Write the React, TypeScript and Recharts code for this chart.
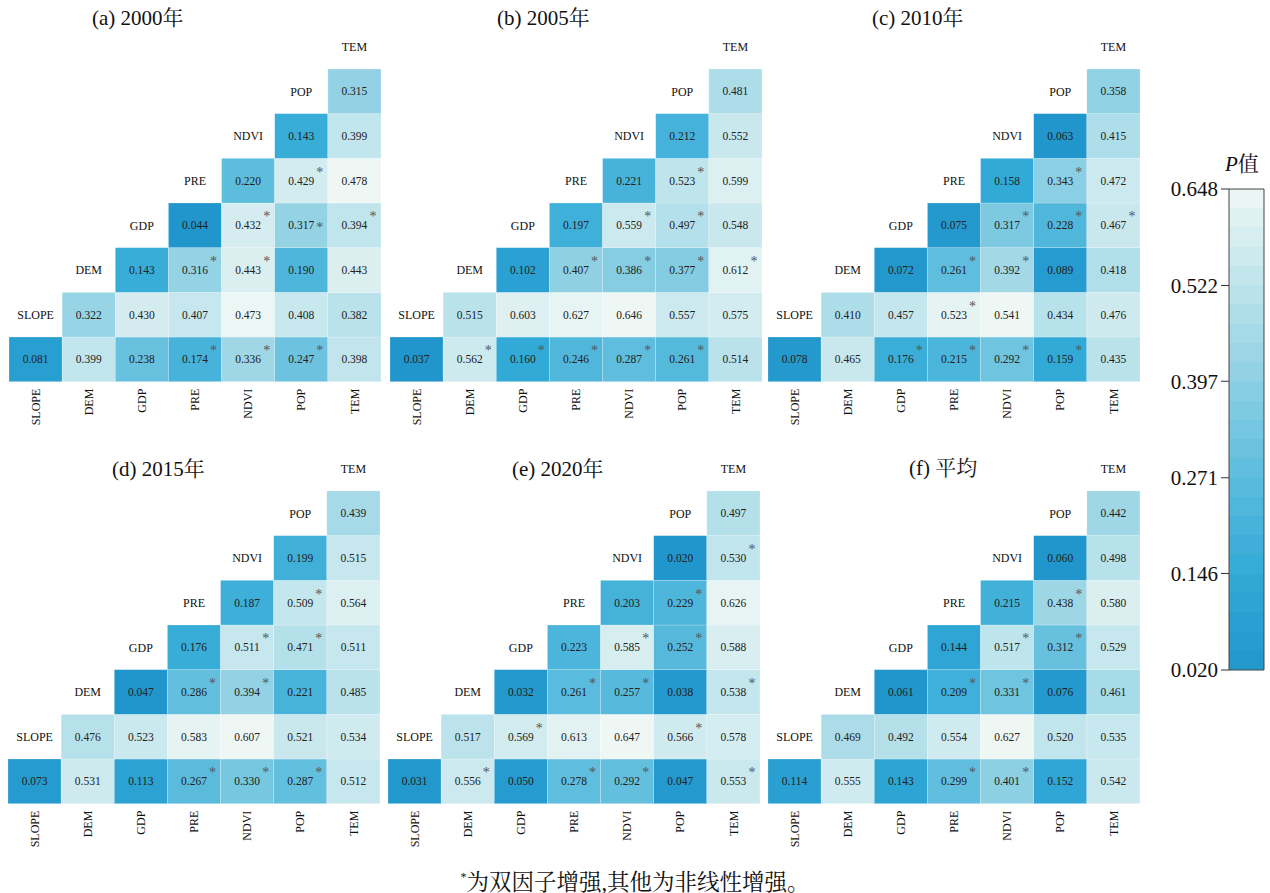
import { Bar, BarChart, Scatter, ScatterChart, XAxis, YAxis } from 'recharts'

// Factor names, left to right on the x axis.
const FACTORS = ['SLOPE', 'DEM', 'GDP', 'PRE', 'NDVI', 'POP', 'TEM']

// P values per panel, rows listed bottom to top.
// Row 0 spans all seven columns, row r (r >= 1) starts at column r.
const p2000 = [
  [0.081, 0.399, 0.238, 0.174, 0.336, 0.247, 0.398],
  [0.322, 0.43, 0.407, 0.473, 0.408, 0.382],
  [0.143, 0.316, 0.443, 0.19, 0.443],
  [0.044, 0.432, 0.317, 0.394],
  [0.22, 0.429, 0.478],
  [0.143, 0.399],
  [0.315],
]
const p2005 = [
  [0.037, 0.562, 0.16, 0.246, 0.287, 0.261, 0.514],
  [0.515, 0.603, 0.627, 0.646, 0.557, 0.575],
  [0.102, 0.407, 0.386, 0.377, 0.612],
  [0.197, 0.559, 0.497, 0.548],
  [0.221, 0.523, 0.599],
  [0.212, 0.552],
  [0.481],
]
const p2010 = [
  [0.078, 0.465, 0.176, 0.215, 0.292, 0.159, 0.435],
  [0.41, 0.457, 0.523, 0.541, 0.434, 0.476],
  [0.072, 0.261, 0.392, 0.089, 0.418],
  [0.075, 0.317, 0.228, 0.467],
  [0.158, 0.343, 0.472],
  [0.063, 0.415],
  [0.358],
]
const p2015 = [
  [0.073, 0.531, 0.113, 0.267, 0.33, 0.287, 0.512],
  [0.476, 0.523, 0.583, 0.607, 0.521, 0.534],
  [0.047, 0.286, 0.394, 0.221, 0.485],
  [0.176, 0.511, 0.471, 0.511],
  [0.187, 0.509, 0.564],
  [0.199, 0.515],
  [0.439],
]
const p2020 = [
  [0.031, 0.556, 0.05, 0.278, 0.292, 0.047, 0.553],
  [0.517, 0.569, 0.613, 0.647, 0.566, 0.578],
  [0.032, 0.261, 0.257, 0.038, 0.538],
  [0.223, 0.585, 0.252, 0.588],
  [0.203, 0.229, 0.626],
  [0.02, 0.53],
  [0.497],
]
const pMean = [
  [0.114, 0.555, 0.143, 0.299, 0.401, 0.152, 0.542],
  [0.469, 0.492, 0.554, 0.627, 0.52, 0.535],
  [0.061, 0.209, 0.331, 0.076, 0.461],
  [0.144, 0.517, 0.312, 0.529],
  [0.215, 0.438, 0.58],
  [0.06, 0.498],
  [0.442],
]

// Two-factor enhancement marks: 0 none, 1 raised asterisk, 2 inline asterisk.
const s2000 = [
  [0, 0, 0, 1, 1, 1, 0],
  [0, 0, 0, 0, 0, 0],
  [0, 1, 1, 0, 0],
  [0, 1, 2, 1],
  [0, 1, 0],
  [0, 0],
  [0],
]
const s2005 = [
  [0, 1, 1, 1, 1, 1, 0],
  [0, 0, 0, 0, 0, 0],
  [0, 1, 1, 1, 1],
  [0, 1, 1, 0],
  [0, 1, 0],
  [0, 0],
  [0],
]
const s2010 = [
  [0, 0, 1, 1, 1, 1, 0],
  [0, 0, 1, 0, 0, 0],
  [0, 1, 1, 0, 0],
  [0, 1, 1, 1],
  [0, 1, 0],
  [0, 0],
  [0],
]
const s2015 = [
  [0, 0, 0, 1, 1, 1, 0],
  [0, 0, 0, 0, 0, 0],
  [0, 1, 1, 0, 0],
  [0, 1, 1, 0],
  [0, 1, 0],
  [0, 0],
  [0],
]
const s2020 = [
  [0, 1, 0, 1, 1, 0, 1],
  [0, 1, 0, 0, 1, 0],
  [0, 1, 1, 0, 1],
  [0, 1, 1, 0],
  [0, 1, 0],
  [0, 1],
  [0],
]
const sMean = [
  [0, 0, 0, 1, 1, 0, 0],
  [0, 0, 0, 0, 0, 0],
  [0, 1, 1, 0, 0],
  [0, 1, 1, 0],
  [0, 1, 0],
  [0, 0],
  [0],
]

const TITLES = ['(a) 2000年', '(b) 2005年', '(c) 2010年', '(d) 2015年', '(e) 2020年', '(f) 平均']
const PANEL_VALUES = [p2000, p2005, p2010, p2015, p2020, pMean]
const PANEL_STARS = [s2000, s2005, s2010, s2015, s2020, sMean]

// Colour bar ticks.
const CB_TICKS = [0.02, 0.146, 0.271, 0.397, 0.522, 0.648]
const CB_DATA = [{ name: 'P', range: [0.02, 0.648] }]

// Layout of each panel on the page.
const PANEL_POS = [
  { left: 9, top: 0, titleX: 92, titleY: 7 },
  { left: 390, top: 0, titleX: 497, titleY: 7 },
  { left: 768, top: 0, titleX: 872, titleY: 7 },
  { left: 8, top: 422, titleX: 112, titleY: 458 },
  { left: 388, top: 422, titleX: 512, titleY: 458 },
  { left: 768, top: 422, titleX: 909, titleY: 457 },
]

const PLOT_W = 372
const PLOT_H = 357.4
const CELL_W = PLOT_W / 7
const CELL_H = PLOT_H / 8
const FONT = '"Liberation Serif", "Times New Roman", "Noto Serif CJK SC", "Noto Sans CJK SC", serif'
const CB_BANDS = 25

// Colour ramp from deep blue to near white.
const RAMP = [
  [33, 150, 204],
  [50, 170, 215],
  [92, 188, 221],
  [141, 208, 227],
  [190, 228, 236],
  [239, 247, 245],
]

function rampColor(t: number): string {
  const c = Math.max(0, Math.min(1, t)) * (RAMP.length - 1)
  const i = Math.min(RAMP.length - 2, Math.floor(c))
  const f = c - i
  const rgb = RAMP[i].map((a, k) => Math.round(a + (RAMP[i + 1][k] - a) * f))
  return `rgb(${rgb[0]},${rgb[1]},${rgb[2]})`
}

interface CellPoint {
  x: number
  y: number
  v: number
  star: number
}

function buildCells(values: number[][], stars: number[][]): CellPoint[] {
  const cells: CellPoint[] = []
  values.forEach((row, r) => {
    const start = r === 0 ? 0 : r
    row.forEach((v, k) => cells.push({ x: start + k, y: r, v, star: stars[r][k] }))
  })
  return cells
}

// Row labels sit just left of each row's first cell.
const LABEL_POINTS = FACTORS.map((name, i) => ({ x: i, y: i + 1, name }))

function FactorTick(props: any) {
  const { x, y, payload } = props
  return (
    <text
      x={x}
      y={y}
      transform={`rotate(-90, ${x}, ${y})`}
      textAnchor="end"
      dy="0.35em"
      fontSize={12}
      fontFamily={FONT}
      fill="#111"
    >
      {FACTORS[payload.value]}
    </text>
  )
}

function Panel({ index }: { index: number }) {
  const values = PANEL_VALUES[index]
  const cells = buildCells(values, PANEL_STARS[index])
  const all = cells.map((c) => c.v)
  const lo = Math.min(...all)
  const hi = Math.max(...all)
  const pos = PANEL_POS[index]

  const renderCell = (p: any) => {
    const { cx, cy, payload } = p
    const fill = rampColor((payload.v - lo) / (hi - lo))
    return (
      <g>
        <rect
          x={cx - CELL_W / 2}
          y={cy - CELL_H / 2}
          width={CELL_W}
          height={CELL_H}
          fill={fill}
          stroke="#ffffff"
          strokeOpacity={0.35}
          strokeWidth={0.6}
        />
        <text
          x={cx}
          y={cy}
          dy="0.35em"
          textAnchor="middle"
          fontSize={11.5}
          fontFamily={FONT}
          fill="#222"
        >
          {payload.v.toFixed(3)}
        </text>
        {payload.star === 1 && (
          <text x={cx + 15} y={cy - 4} fontSize={14} fontFamily={FONT} fill="#555">
            *
          </text>
        )}
        {payload.star === 2 && (
          <text x={cx + 15} y={cy + 7} fontSize={14} fontFamily={FONT} fill="#555">
            *
          </text>
        )}
      </g>
    )
  }

  const renderLabel = (p: any) => {
    const { cx, cy, payload } = p
    return (
      <text
        x={cx}
        y={cy}
        dy="0.35em"
        textAnchor="middle"
        fontSize={12}
        fontFamily={FONT}
        fill="#111"
      >
        {payload.name}
      </text>
    )
  }

  return (
    <>
      <div
        style={{
          position: 'absolute',
          left: pos.titleX,
          top: pos.titleY,
          fontSize: 21,
          lineHeight: '22px',
          fontFamily: FONT,
          color: '#111',
          whiteSpace: 'nowrap',
        }}
      >
        {TITLES[index]}
      </div>
      <div style={{ position: 'absolute', left: pos.left, top: pos.top }}>
        <ScatterChart
          width={PLOT_W}
          height={24.3 + PLOT_H + 58}
          margin={{ top: 24.3, right: 0, bottom: 8, left: 0 }}
        >
          <XAxis
            type="number"
            dataKey="x"
            domain={[-0.5, 6.5]}
            ticks={[0, 1, 2, 3, 4, 5, 6]}
            interval={0}
            height={50}
            axisLine={false}
            tickLine={false}
            tickSize={0}
            tickMargin={7}
            tick={<FactorTick />}
          />
          <YAxis type="number" dataKey="y" domain={[-0.5, 7.5]} hide />
          <Scatter data={cells} shape={renderCell} isAnimationActive={false} />
          <Scatter data={LABEL_POINTS} shape={renderLabel} isAnimationActive={false} />
        </ScatterChart>
      </div>
    </>
  )
}

function ColorBar() {
  const bands = Array.from({ length: CB_BANDS }, (_, k) => k)
  return (
    <>
      <svg width={0} height={0} style={{ position: 'absolute' }}>
        <defs>
          <linearGradient id="cbGrad" x1="0" y1="1" x2="0" y2="0">
            {bands.map((k) => [
              <stop
                key={`a${k}`}
                offset={`${(k / CB_BANDS) * 100}%`}
                stopColor={rampColor((k + 0.5) / CB_BANDS)}
              />,
              <stop
                key={`b${k}`}
                offset={`${((k + 1) / CB_BANDS) * 100}%`}
                stopColor={rampColor((k + 0.5) / CB_BANDS)}
              />,
            ])}
          </linearGradient>
        </defs>
      </svg>
      <div
        style={{
          position: 'absolute',
          left: 1225,
          top: 153,
          fontSize: 21,
          lineHeight: '22px',
          fontFamily: FONT,
          color: '#111',
        }}
      >
        <i>P</i>值
      </div>
      <div style={{ position: 'absolute', left: 1140, top: 160 }}>
        <BarChart
          width={130}
          height={540}
          data={CB_DATA}
          margin={{ top: 29, right: 6, bottom: 30, left: 0 }}
          barCategoryGap={0}
        >
          <XAxis dataKey="name" hide />
          <YAxis
            type="number"
            domain={[0.02, 0.648]}
            ticks={CB_TICKS}
            interval={0}
            width={89}
            axisLine={false}
            tickSize={8}
            tickMargin={3}
            tickLine={{ stroke: '#333' }}
            tickFormatter={(v: number) => v.toFixed(3)}
            tick={{ fontSize: 21, fill: '#111', fontFamily: FONT }}
          />
          <Bar
            dataKey="range"
            fill="url(#cbGrad)"
            stroke="#444"
            strokeWidth={1}
            isAnimationActive={false}
          />
        </BarChart>
      </div>
    </>
  )
}

export default function App() {
  return (
    <div
      style={{
        position: 'absolute',
        left: 0,
        top: 0,
        width: 1270,
        height: 893,
        background: '#fff',
        fontFamily: FONT,
      }}
    >
      {TITLES.map((_, i) => (
        <Panel key={i} index={i} />
      ))}
      <ColorBar />
      <div
        style={{
          position: 'absolute',
          left: 0,
          width: 1270,
          top: 863,
          textAlign: 'center',
          fontSize: 22.5,
          lineHeight: '28px',
          fontFamily: FONT,
          color: '#111',
        }}
      >
        <sup style={{ fontSize: 12 }}>*</sup>为双因子增强,其他为非线性增强。
      </div>
    </div>
  )
}
